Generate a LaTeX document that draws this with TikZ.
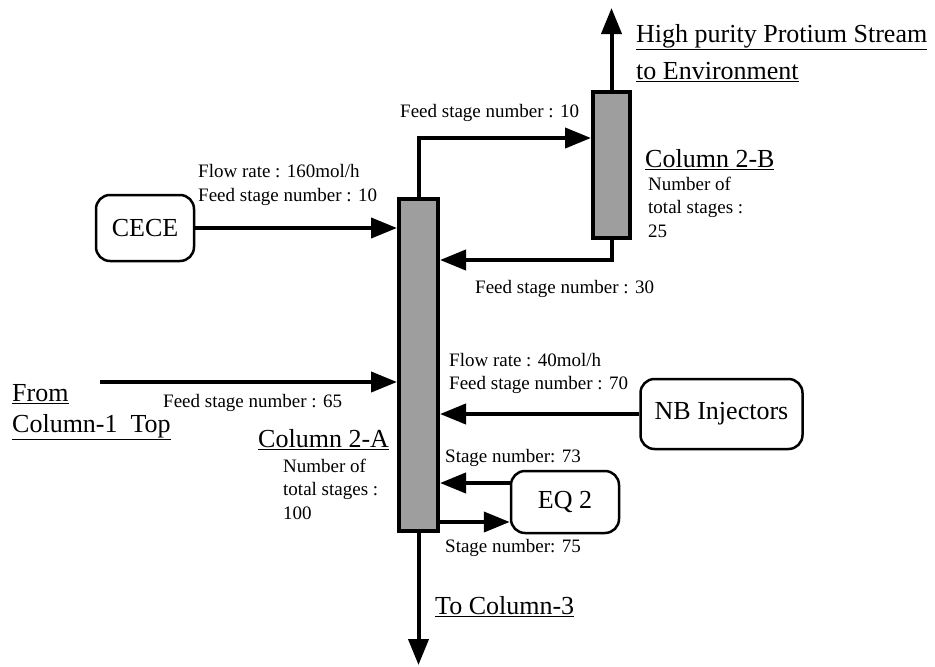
\documentclass[tikz,border=0pt]{standalone}
\usepackage{fontspec}
\setmainfont{Liberation Serif}
\usetikzlibrary{positioning,arrows.meta,calc}

\begin{document}
\begin{tikzpicture}[
  x=1pt, y=-1pt,
  >={Triangle[length=26pt,width=20pt]},
  column/.style={draw, line width=4pt, fill=black!38, inner sep=0pt},
  unit/.style={draw, line width=2.5pt, rounded corners=14pt, inner sep=0pt,
    font=\fontsize{26}{30}\selectfont},
  flow/.style={->, line width=4pt},
  lbl/.style={anchor=west, inner sep=0pt, align=left, font=\fontsize{19}{23.5}\selectfont},
  big/.style={anchor=west, inner sep=0pt, font=\fontsize{26}{30}\selectfont}
]
  \useasboundingbox (0,0) rectangle (935,667);

  \node[column, minimum width=39pt, minimum height=332pt] (cA) at (418.5,365) {};
  \node[column, minimum width=37pt, minimum height=146pt] (cB) at (611.5,165) {};
  \node[unit, minimum width=98pt, minimum height=66pt] (cece) at (145,228) {CECE};
  \node[unit, minimum width=162pt, minimum height=70pt] (nb) at (721.5,414) {NB Injectors};
  \node[unit, minimum width=108pt, minimum height=62pt] (eq) at (565,502) {EQ 2};

  \coordinate (c1) at (100,382);
  \coordinate (env) at (611.5,8);
  \coordinate (c3) at (418.5,665);
  \coordinate (eqin) at ($(eq.west)+(0,-19)$);
  \coordinate (eqout) at ($(eq.west)+(0,20)$);

  \draw[flow] (cA.north) |- ($(cB.west)+(0,-27)$);
  \draw[flow] (cB.south) |- ($(cA.east)+(0,-105)$);
  \draw[flow] (cece.east) -- (cece.east -| cA.west);
  \draw[flow] (c1) -- (c1 -| cA.west);
  \draw[flow] (nb.west) -- (nb.west -| cA.east);
  \draw[flow] (eqin) -- (eqin -| cA.east);
  \draw[flow] (cA.east |- eqout) -- (eqout);
  \draw[flow] (cB.north) -- (env);
  \draw[flow] (cA.south) -- (c3);

  \node[lbl] (fs10) at (400,113) {Feed stage number : 10};
  \node[lbl] (cecelbl) at (198,185) {Flow rate : 160mol/h\\Feed stage number : 10};
  \node[lbl] (fs30) at (475,289) {Feed stage number : 30};
  \node[lbl] (fs65) at (163,403) {Feed stage number : 65};
  \node[lbl] (nblbl) at (449,373.5) {Flow rate : 40mol/h\\Feed stage number : 70};
  \node[lbl] (s73) at (445,458) {Stage number: 73};
  \node[lbl] (s75) at (445,548) {Stage number: 75};

  \node[big] (cAname) at (258,440) {\underline{Column 2-A}};
  \node[lbl] (cAinfo) at (283,489) {Number of\\total stages :\\100};
  \node[big] (cBname) at (645,160) {\underline{Column 2-B}};
  \node[lbl] (cBinfo) at (648,207) {Number of\\total stages :\\25};

  \node[big] (envA) at (636,37) {\underline{High purity Protium Stream}};
  \node[big] (envB) at (636,72) {\underline{to Environment}};
  \node[big] (fromA) at (12,394) {\underline{From}};
  \node[big] (fromB) at (12,427) {\underline{Column-1\ \ Top}};
  \node[big] (c3lbl) at (435,607) {\underline{To Column-3}};
\end{tikzpicture}
\end{document}
